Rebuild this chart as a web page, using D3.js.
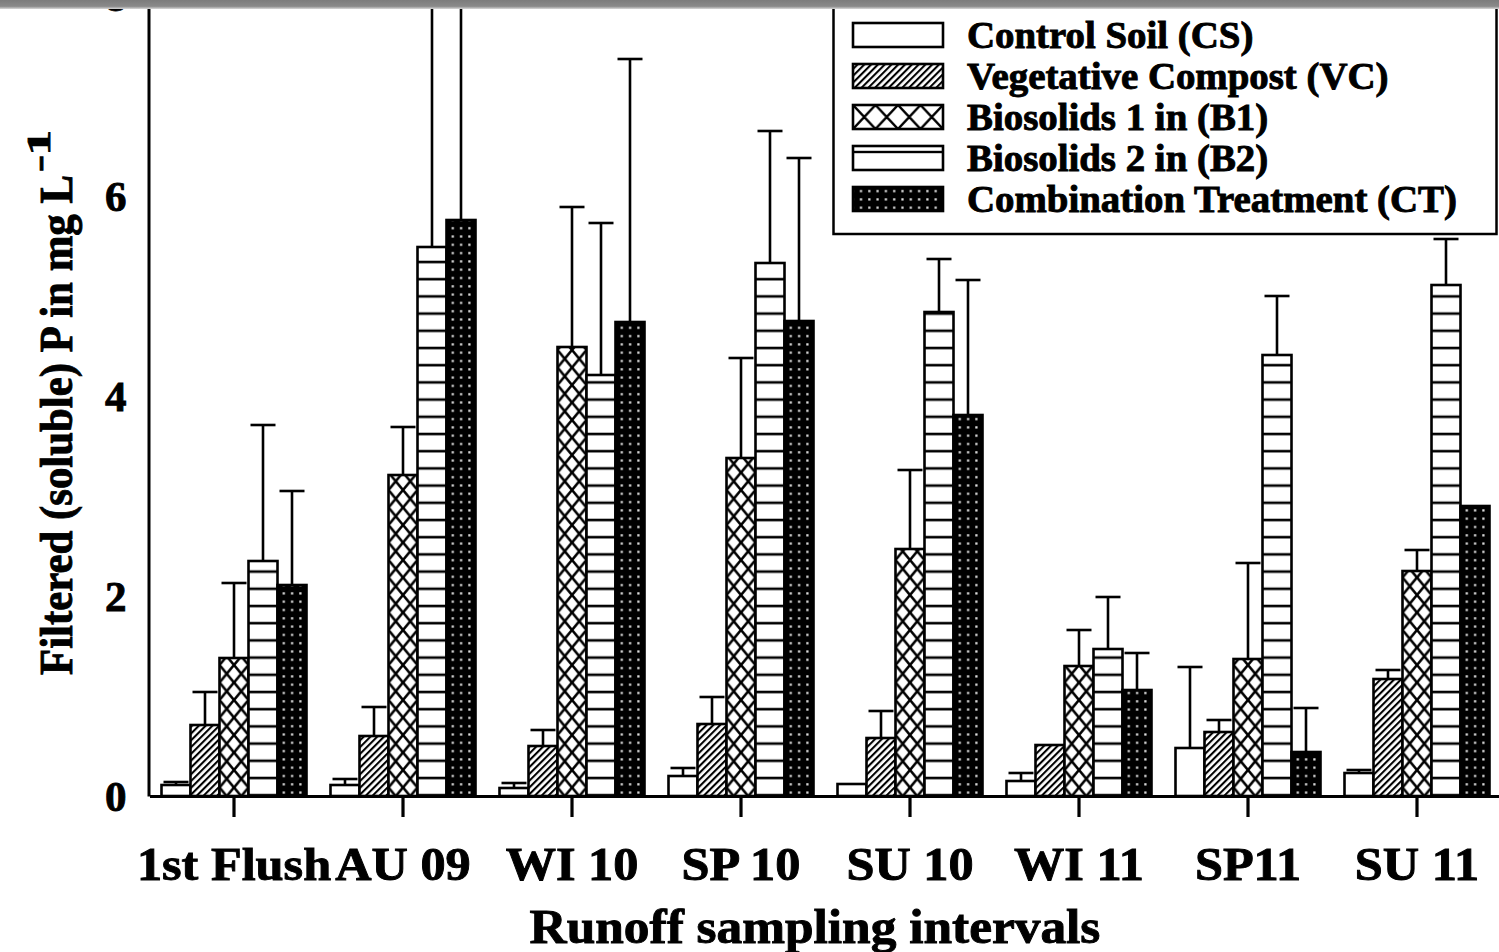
<!DOCTYPE html>
<html>
<head>
<meta charset="utf-8">
<script src="https://cdn.jsdelivr.net/npm/d3@7/dist/d3.min.js"></script>
<style>
  body { margin: 0; background: #fff; }
  svg { display: block; }
  text { font-family: "Liberation Serif", "Times New Roman", serif; font-weight: bold; fill: #000;
         stroke: #000; stroke-width: 0.9px; }
</style>
</head>
<body>
<script>
// sampling intervals and treatments
const intervals = ["1st Flush", "AU 09", "WI 10", "SP 10", "SU 10", "WI 11", "SP11", "SU 11"];
const treatments = ["CS", "VC", "B1", "B2", "CT"];
const legendLabels = ["Control Soil (CS)", "Vegetative Compost (VC)", "Biosolids 1 in (B1)",
                      "Biosolids 2 in (B2)", "Combination Treatment (CT)"];

// mean filtered P (mg/L) and upper error (SE) per treatment
const csMean = [0.11, 0.11, 0.08, 0.20, 0.12, 0.15, 0.48, 0.23];
const csErr  = [0.03, 0.06, 0.05, 0.08, 0,    0.08, 0.81, 0.03];
const vcMean = [0.71, 0.60, 0.50, 0.72, 0.58, 0.51, 0.64, 1.17];
const vcErr  = [0.33, 0.29, 0.16, 0.27, 0.27, 0,    0.12, 0.09];
const b1Mean = [1.38, 3.21, 4.49, 3.38, 2.47, 1.30, 1.37, 2.25];
const b1Err  = [0.75, 0.48, 1.40, 1.00, 0.79, 0.36, 0.96, 0.21];
const b2Mean = [2.35, 5.49, 4.21, 5.33, 4.84, 1.47, 4.41, 5.11];
const b2Err  = [1.36, 3.20, 1.52, 1.32, 0.53, 0.52, 0.59, 0.46];
const ctMean = [2.11, 5.76, 4.74, 4.75, 3.81, 1.06, 0.44, 2.90];
const ctErr  = [0.94, 3.00, 2.63, 1.63, 1.35, 0.37, 0.44, 0];

const yTicks = [0, 2, 4, 6, 8];

const means = [csMean, vcMean, b1Mean, b2Mean, ctMean];
const errs = [csErr, vcErr, b1Err, b2Err, ctErr];
const fills = ["#fff", "url(#hatch)", "url(#cross)", "url(#hlines)", "url(#dots)"];
const legFills = ["#fff", "url(#hatch)", "url(#legCross)", "url(#legLines)", "url(#dots)"];

var w = 1499, h = 952;
var stretch = 1.07;   // the original text is a bit wider than Times

function fit(sel, k) {
    sel.each(function () {
        var len = this.getComputedTextLength();
        d3.select(this).attr("textLength", len * k).attr("lengthAdjust", "spacingAndGlyphs");
    });
}

var svg = d3.select("body").append("svg")
    .attr("width", w)
    .attr("height", h);

svg.append("rect").attr("width", w).attr("height", h).attr("fill", "#fff");

var defs = svg.append("defs");

// diagonal hatch
var p = defs.append("pattern").attr("id", "hatch").attr("patternUnits", "userSpaceOnUse")
    .attr("width", 4.8).attr("height", 10).attr("patternTransform", "rotate(45)");
p.append("rect").attr("width", 4.8).attr("height", 10).attr("fill", "#fff");
p.append("line").attr("x1", 2).attr("x2", 2).attr("y1", 0).attr("y2", 10)
    .attr("stroke", "#000").attr("stroke-width", 2.1);

// cross hatch (diamonds)
p = defs.append("pattern").attr("id", "cross").attr("patternUnits", "userSpaceOnUse")
    .attr("width", 14.5).attr("height", 17.5);
p.append("rect").attr("width", 14.5).attr("height", 17.5).attr("fill", "#fff");
p.append("path").attr("d", "M0,0L14.5,17.5M14.5,0L0,17.5M-1,-1.2L1,1.2M13.5,18.7L15.5,16.3")
    .attr("stroke", "#000").attr("stroke-width", 2.6);

// legend items sit in translated groups, so these tiles start at the swatch's local origin
p = defs.append("pattern").attr("id", "legCross").attr("patternUnits", "userSpaceOnUse")
    .attr("x", 853).attr("y", 0).attr("width", 22.5).attr("height", 24);
p.append("rect").attr("width", 22.5).attr("height", 24).attr("fill", "#fff");
p.append("path").attr("d", "M0,0L22.5,24M22.5,0L0,24")
    .attr("stroke", "#000").attr("stroke-width", 2.4);

// horizontal lines
p = defs.append("pattern").attr("id", "hlines").attr("patternUnits", "userSpaceOnUse")
    .attr("y", 2).attr("width", 20).attr("height", 17.2);
p.append("rect").attr("width", 20).attr("height", 17.2).attr("fill", "#fff");
p.append("line").attr("x1", 0).attr("x2", 20).attr("y1", 2).attr("y2", 2)
    .attr("stroke", "#000").attr("stroke-width", 2.6);

p = defs.append("pattern").attr("id", "legLines").attr("patternUnits", "userSpaceOnUse")
    .attr("y", 0).attr("width", 20).attr("height", 100);
p.append("rect").attr("width", 20).attr("height", 100).attr("fill", "#fff");
p.append("line").attr("x1", 0).attr("x2", 20).attr("y1", 6).attr("y2", 6)
    .attr("stroke", "#000").attr("stroke-width", 2.4);

// black with small light dots
p = defs.append("pattern").attr("id", "dots").attr("patternUnits", "userSpaceOnUse")
    .attr("x", 2).attr("width", 8.3).attr("height", 8.3);
p.append("rect").attr("width", 8.3).attr("height", 8.3).attr("fill", "#000");
p.append("rect").attr("x", 3).attr("y", 3).attr("width", 2.2).attr("height", 2.2).attr("fill", "#e4e4e4");

// scales
var x0 = d3.scaleBand().domain(intervals).range([149.5, 1501.5]);
var x1 = d3.scaleBand().domain(treatments).range([0, 145]);
var y = d3.scaleLinear().domain([0, 8]).range([796, -4]);
var off = (x0.bandwidth() - 145) / 2;

var rows = intervals.map(function (iv, i) {
    return treatments.map(function (t, j) {
        return { iv: iv, t: t, j: j, mean: means[j][i], err: errs[j][i] };
    });
});

var groups = svg.append("g").selectAll("g")
    .data(rows)
    .enter()
    .append("g")
    .attr("transform", function (d) { return "translate(" + (x0(d[0].iv) + off) + ",0)"; });

groups.selectAll("rect")
    .data(function (d) { return d; })
    .enter()
    .append("rect")
    .attr("x", function (d) { return x1(d.t); })
    .attr("y", function (d) { return y(d.mean); })
    .attr("width", x1.bandwidth())
    .attr("height", function (d) { return y(0) - y(d.mean); })
    .attr("fill", function (d) { return fills[d.j]; })
    .attr("stroke", "#000")
    .attr("stroke-width", 2.6);

// error bars (upper only)
var eb = groups.selectAll(".err")
    .data(function (d) { return d.filter(function (e) { return e.err > 0; }); })
    .enter()
    .append("g")
    .attr("class", "err");

eb.append("line")
    .attr("x1", function (d) { return x1(d.t) + x1.bandwidth() / 2; })
    .attr("x2", function (d) { return x1(d.t) + x1.bandwidth() / 2; })
    .attr("y1", function (d) { return y(d.mean); })
    .attr("y2", function (d) { return y(d.mean + d.err); })
    .attr("stroke", "#000").attr("stroke-width", 2.6);

eb.append("line")
    .attr("x1", function (d) { return x1(d.t) + x1.bandwidth() / 2 - 12.5; })
    .attr("x2", function (d) { return x1(d.t) + x1.bandwidth() / 2 + 12.5; })
    .attr("y1", function (d) { return y(d.mean + d.err); })
    .attr("y2", function (d) { return y(d.mean + d.err); })
    .attr("stroke", "#000").attr("stroke-width", 2.6);

// x axis
var xAxis = svg.append("g")
    .attr("transform", "translate(0," + y(0) + ")")
    .call(d3.axisBottom(x0).tickSize(21).tickSizeOuter(0));
xAxis.select(".domain").attr("stroke-width", 3.2);
xAxis.selectAll(".tick line").attr("stroke-width", 3.2);
xAxis.selectAll(".tick text")
    .attr("font-size", 47).attr("font-family", null)
    .attr("y", 84).attr("dy", 0)
    .call(fit, stretch);

// y axis
var yAxis = svg.append("g")
    .attr("transform", "translate(148.5,0)")
    .call(d3.axisLeft(y).tickValues(yTicks).tickSize(0).tickPadding(22));
yAxis.select(".domain").attr("stroke-width", 3);
yAxis.selectAll(".tick text")
    .attr("font-size", 43).attr("font-family", null)
    .attr("dy", "0.34em");

// axis titles
svg.append("text")
    .attr("x", 815).attr("y", 943)
    .attr("text-anchor", "middle")
    .attr("font-size", 48)
    .text("Runoff sampling intervals")
    .call(fit, stretch);

var yt = svg.append("g").attr("transform", "rotate(-90)");
yt.append("text")
    .attr("x", -675).attr("y", 72)
    .attr("font-size", 47)
    .attr("textLength", 500).attr("lengthAdjust", "spacingAndGlyphs")
    .text("Filtered (soluble) P in mg L");
yt.append("text")
    .attr("x", -172).attr("y", 50)
    .attr("font-size", 33)
    .attr("textLength", 42).attr("lengthAdjust", "spacingAndGlyphs")
    .text("-1");

// legend
var leg = svg.append("g");
leg.append("rect")
    .attr("x", 833.5).attr("y", -10).attr("width", 663).attr("height", 244)
    .attr("fill", "#fff").attr("stroke", "#000").attr("stroke-width", 2.5);

var li = leg.selectAll(".li")
    .data(legendLabels)
    .enter()
    .append("g")
    .attr("class", "li")
    .attr("transform", function (d, i) { return "translate(0," + (23 + i * 41) + ")"; });

li.append("rect")
    .attr("x", 853).attr("y", 0).attr("width", 90).attr("height", 24)
    .attr("fill", function (d, i) { return legFills[i]; })
    .attr("stroke", "#000").attr("stroke-width", 2.6);

li.append("text")
    .attr("x", 967).attr("y", 25)
    .attr("font-size", 37)
    .text(function (d) { return d; })
    .call(fit, 1.05);

// grey band across the top of the scan
var band = defs.append("linearGradient").attr("id", "band").attr("x1", 0).attr("x2", 0).attr("y1", 0).attr("y2", 1);
band.append("stop").attr("offset", "0").attr("stop-color", "#7c7c7c");
band.append("stop").attr("offset", "0.7").attr("stop-color", "#8a8a8a");
band.append("stop").attr("offset", "1").attr("stop-color", "#d8d8d8");
svg.append("rect").attr("x", 0).attr("y", 0).attr("width", w).attr("height", 9).attr("fill", "url(#band)");
</script>
</body>
</html>
